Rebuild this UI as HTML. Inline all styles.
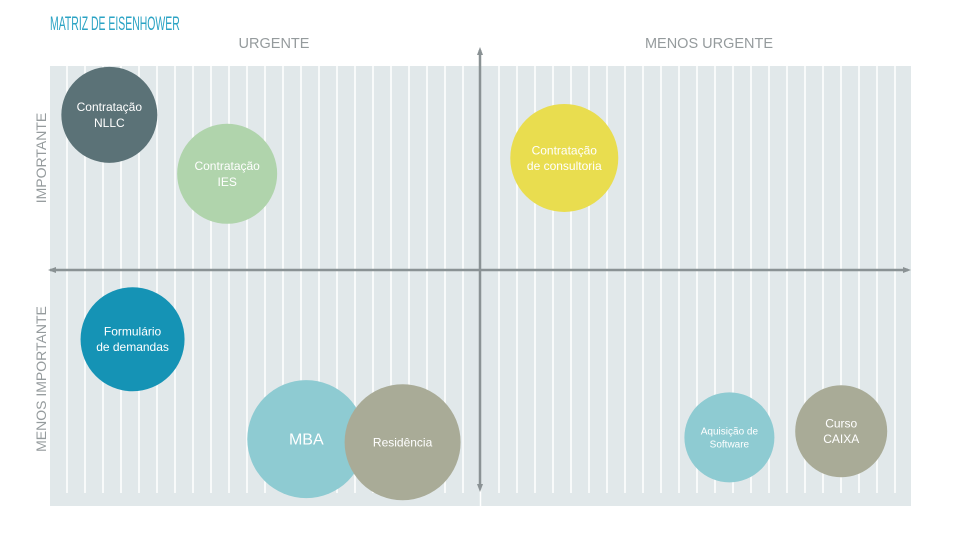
<!DOCTYPE html>
<html><head><meta charset="utf-8"><style>
html,body{margin:0;padding:0;background:#fff;width:960px;height:540px;overflow:hidden}
svg{display:block}
text{font-family:"Liberation Sans",sans-serif}
</style></head><body>
<svg id="chart" width="960" height="540">
<text x="50" y="30" font-size="19" fill="#2ba3c4" transform="translate(50,0) scale(0.55,1) translate(-50,0)">MATRIZ DE EISENHOWER</text>
<rect x="50" y="66" width="861" height="440" fill="#e1e8ea"/>
<g id="grid"></g>
<line x1="480.5" y1="490" x2="480.5" y2="506" stroke="#fff" stroke-width="1.5"/>
<line x1="50" y1="270" x2="908" y2="270" stroke="#8a9294" stroke-width="2.5"/>
<path d="M48 270 L56 267 L56 273Z M911 270 L903 267 L903 273Z" fill="#8a9294"/>
<line x1="480" y1="50" x2="480" y2="488" stroke="#8a9294" stroke-width="2.5"/>
<path d="M480 47 L477 55 L483 55Z M480 492 L477 484 L483 484Z" fill="#8a9294"/>
<text x="274" y="48" font-size="14.5" fill="#959b9d" text-anchor="middle">URGENTE</text>
<text x="709" y="48" font-size="14.5" fill="#959b9d" text-anchor="middle">MENOS URGENTE</text>
<text transform="translate(46,158) rotate(-90)" font-size="14" fill="#959b9d" text-anchor="middle">IMPORTANTE</text>
<text transform="translate(46,379) rotate(-90)" font-size="14" fill="#959b9d" text-anchor="middle">MENOS IMPORTANTE</text>
<g id="bubbles"></g>
</svg>
<script>
const labels=[["Contratação","NLLC"],["Contratação","IES"],["Contratação","de consultoria"],["Formulário","de demandas"],["MBA"],["Residência"],["Aquisição de","Software"],["Curso","CAIXA"]];
const xValues=[6.9,20.6,59.8,9.6,29.8,41.0,79.0,92.0];
const yValues=[88.9,75.5,79.1,37.9,15.2,14.5,15.6,17.0];
const sizes=[48,50,54,52,59,58,45,46];
const colors=["#5b7277","#b0d4ac","#e9dd4f","#1593b5","#8ecbd2","#a9ab97","#8ecbd2","#a9ab97"];
const fontSizes=[12,12,12,12,16,12,10,12];
function xScale(v){return 50+v*8.6;}
function yScale(v){return 506-v*4.4;}
const ns="http://www.w3.org/2000/svg";
const grid=document.getElementById('grid');
for(let x=67;x<905;x+=18){
  if(Math.abs(x-480)<3)continue;
  const l=document.createElementNS(ns,'line');
  l.setAttribute('x1',x);l.setAttribute('x2',x);l.setAttribute('y1',66);l.setAttribute('y2',493);
  l.setAttribute('stroke','#fff');l.setAttribute('stroke-width','1.5');
  
  
  grid.appendChild(l);
}
const g=document.getElementById('bubbles');
labels.forEach((lab,i)=>{
  const cx=xScale(xValues[i]),cy=yScale(yValues[i]);
  const c=document.createElementNS(ns,'circle');
  c.setAttribute('cx',cx);c.setAttribute('cy',cy);c.setAttribute('r',sizes[i]);c.setAttribute('fill',colors[i]);
  
  
  g.appendChild(c);
  const fs=fontSizes[i];
  lab.forEach((s,j)=>{
    const t=document.createElementNS(ns,'text');
    t.setAttribute('x',cx);
    t.setAttribute('y',cy+fs*0.35+(j-(lab.length-1)/2)*fs*1.3);
    t.setAttribute('text-anchor','middle');t.setAttribute('font-size',fs);t.setAttribute('fill','#fff');
    t.textContent=s;
    
    
    g.appendChild(t);
  });
});
</script>
</body></html>
